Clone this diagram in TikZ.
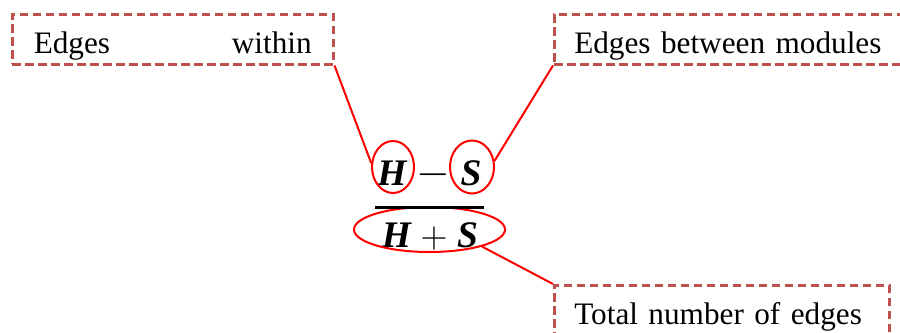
\documentclass[tikz,border=0pt]{standalone}
\usepackage{fontspec}
\setmainfont{Liberation Serif}
\usetikzlibrary{shapes.geometric}
\definecolor{boxred}{RGB}{192,80,77}
\begin{document}
\begin{tikzpicture}[x=0.4pt,y=-0.4pt,
  note/.style={draw=boxred,line width=1pt,dash pattern=on 3.4pt off 1.8pt,inner xsep=8pt,inner ysep=0pt,text height=15.6pt,text depth=4.4pt,align=left,font=\fontsize{12.5pt}{15pt}\selectfont},
  ring/.style={draw=red,line width=0.8pt,ellipse,inner sep=0pt},
  sym/.style={anchor=base,inner sep=0pt,font=\fontsize{15pt}{18pt}\selectfont\bfseries\itshape},
  link/.style={red,line width=0.8pt}]
\useasboundingbox (0,0) rectangle (900,333);
\clip (0,0) rectangle (900,333);
\node[note,anchor=north west,minimum width=128.4pt] (within) at (11,13) {\makebox[111.2pt][s]{Edges within}};
\node[note,anchor=north west,text width=130pt] (between) at (553,13) {Edges between modules};
\node[note,anchor=north west,text width=118pt] (total) at (553,284) {Total number of edges};
\node[sym] (H) at (392,185) {H};
\node[sym,font=\fontsize{17pt}{20pt}\selectfont] (minus) at (433,185) {$-$};
\node[sym] (S) at (471,185) {S};
\node[sym] (HS) at (430,247) {H $+$ S};
\node[ring,minimum width=16.8pt,minimum height=20.8pt] (ringH) at (393,167) {};
\node[ring,minimum width=17.6pt,minimum height=21.2pt] (ringS) at (472,167) {};
\node[ring,minimum width=60.4pt,minimum height=18pt] (ringHS) at (429.5,229.5) {};
\draw[line width=1.2pt] (375,207)--(484,207);
\draw[link] (within.south east)--(ringH.170);
\draw[link] (between.south west)--(ringS.15);
\draw[link] (total.north west)--(ringHS.-18);
\end{tikzpicture}
\end{document}
